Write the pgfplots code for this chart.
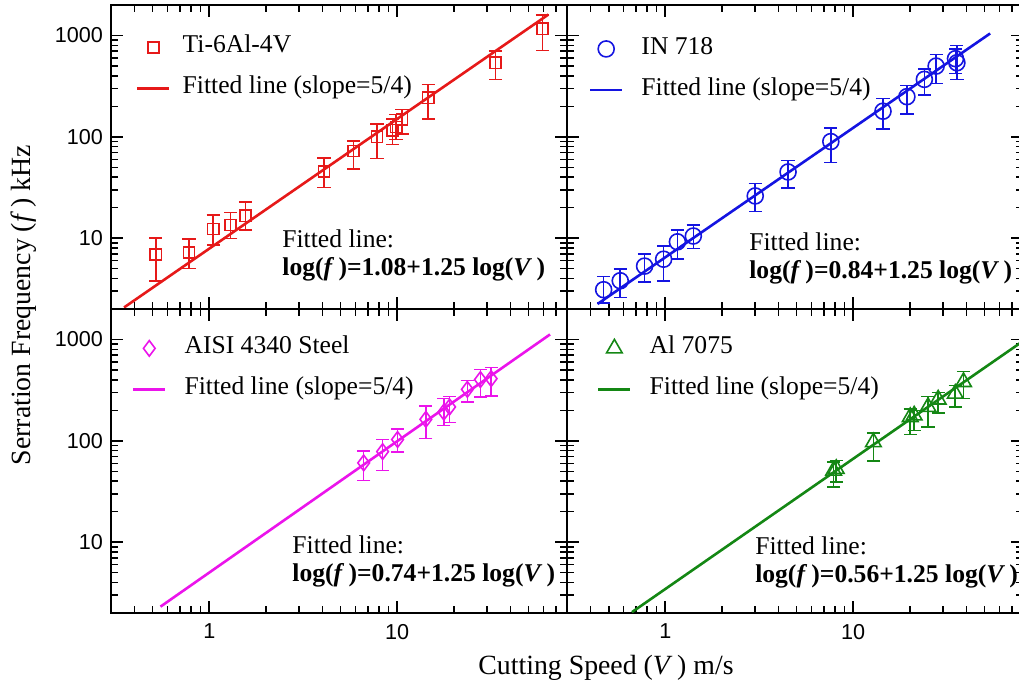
\documentclass[border=0pt]{standalone}
\usepackage{fontspec}
\setmainfont{Liberation Serif}
\newfontfamily\arial{Liberation Sans}
\usepackage{pgfplots}
\pgfplotsset{compat=1.18}

\definecolor{cred}{RGB}{230,25,25}
\definecolor{cblue}{RGB}{20,20,225}
\definecolor{cmag}{RGB}{235,20,235}
\definecolor{cgreen}{RGB}{20,135,20}

% V  f  err+  err-
\pgfplotstableread{
V f ep em
0.52 6.9 3.2 3.1
0.78 7.2 2.6 2.2
1.05 12.3 4.6 3.7
1.30 13.5 4.4 3.6
1.56 16.6 6.2 4.6
4.08 45.4 16 13.8
5.85 72.5 18.5 24.6
7.81 100 33 39
9.45 116 33 32
9.84 125 41 31
10.6 149 37 43
14.6 243 86 94
33.3 538 162 170
59.2 1164 421 453
}\tidata
\pgfplotstableread{
V f ep em
0.47 3.1 1.1 0.81
0.576 3.8 1.15 1.2
0.776 5.3 1.65 1.6
0.98 6.2 2.2 2.4
1.16 9.2 2.9 3.0
1.41 10.5 2.9 2.6
3.01 26.1 8.5 7.8
4.50 45 13.6 13.9
7.6 89.8 33 34
14.4 179 59 59
19.3 249 72 80
23.9 369 101 112
27.6 499 151 162
35.0 590 150 170
35.6 538 258 170
}\indata
\pgfplotstableread{
V f ep em
6.63 60.5 18.5 20
8.36 78.3 24.7 27.5
10.04 103 28 25.7
14.2 163 57 58
17.7 192 69 50
19.0 216 59 65
23.6 322 73 80
27.7 402 103 131
31.6 411 117 134
}\aisidata
\pgfplotstableread{
V f ep em
7.86 50.8 10.7 16
8.12 52.9 10.9 13.4
12.8 97 22 34
20.1 172 35 57
21.1 178 22 51
25.0 216 59 79
28.3 256 43 68
34.9 292 61 76
38.6 381 104 120
}\aldata

\pgfplotsset{
  every axis/.append style={
    xmode=log, ymode=log, scale only axis,
    width=228pt, height=152pt,
    xmin=0.3, xmax=80, ymin=2, ymax=2000,
    xtick={1,10}, ytick={10,100,1000},
    minor xtick={0.4,0.5,0.6,0.7,0.8,0.9,2,3,4,5,6,7,8,9,20,30,40,50,60,70,80},
    minor ytick={3,4,5,6,7,8,9,20,30,40,50,60,70,80,90,200,300,400,500,600,700,800,900},
    tick pos=both, tick align=inside,
    major tick length=6pt, minor tick length=3.5pt,
    axis line style={line width=1pt},
    every tick/.style={black, line width=0.8pt},
    tick label style={font=\arial\fontsize{10.8}{12}\selectfont},
    yticklabel style={xshift=-0.5pt},
    xticklabel style={yshift=-2pt},
    clip mode=individual,
    legend cell align=left,
    legend style={draw=none, fill=none, inner sep=0pt, outer sep=0pt,
      anchor=north west, row sep=10pt, column sep=9pt,
      font=\fontsize{12.8}{14}\selectfont,
      nodes={inner sep=0pt, text height=8pt, text depth=2.5pt}},
  },
  markleg/.style={legend image code/.code={\draw[mark repeat=2,mark phase=2,##1] plot coordinates {(0pt,0pt)(#1,0pt)(2*#1,0pt)};}},
  lineleg/.style={legend image code/.code={\draw[##1] (0pt,0pt) -- (#1,0pt);}},
  fitline/.style={line width=1.3pt},
}

\newcommand{\fitnote}[3]{%
  \node[anchor=west, inner sep=0pt, font=\fontsize{12.8}{14}\selectfont] at (rel axis cs:#1,#2) {Fitted line:};
  \node[anchor=west, inner sep=0pt, font=\fontsize{12.8}{14}\selectfont\bfseries] at (rel axis cs:#1,#2-0.1) {log(\textit{f}\,)=#3+1.25 log(\textit{V}\,)};}

% data points: open marks with capped error bars
\newcommand{\pointplot}[3]{%
\addplot[#1, #2, only marks, mark options={line width=0.8pt, fill=white, solid},
  error bars/.cd, y dir=both, y explicit,
  error bar style={line width=0.8pt},
  error mark options={rotate=90, mark size=3.3pt, line width=0.8pt}]
  table[x=V, y=f, y error plus=ep, y error minus=em] {#3};}

\begin{document}
\begin{tikzpicture}
% top left: Ti-6Al-4V
\begin{axis}[at={(55.5pt,191pt)}, anchor=south west,
  yticklabels={10,100,1000}, xticklabels={},
  legend style={at={(0.055,0.895)}, column sep=6pt}]
\addplot[cred, fitline, forget plot] coordinates {(0.352,2.07) (63.7,1610)};
\pointplot{cred}{mark=square, mark size=2.8pt, markleg=8pt}{\tidata}
\addlegendentry{Ti-6Al-4V}
\addlegendimage{cred, fitline, lineleg=16pt}
\addlegendentry{Fitted line (slope=5/4)}
\fitnote{0.375}{0.23}{1.08}
\end{axis}
% top right: IN 718
\begin{axis}[at={(283.5pt,191pt)}, anchor=south west,
  yticklabels={}, xticklabels={},
  legend style={at={(0.048,0.89)}}]
\addplot[cblue, fitline, forget plot] coordinates {(0.436,2.24) (53.5,1047)};
\pointplot{cblue}{mark=o, mark size=4pt, markleg=8pt}{\indata}
\addlegendentry{IN 718}
\addlegendimage{cblue, fitline, lineleg=16pt}
\addlegendentry{Fitted line (slope=5/4)}
\fitnote{0.399}{0.22}{0.84}
\end{axis}
% bottom left: AISI 4340
\begin{axis}[at={(55.5pt,39pt)}, anchor=south west,
  yticklabels={10,100,1000}, xticklabels={1,10},
  legend style={at={(0.046,0.905)}}]
\addplot[cmag, fitline, forget plot] coordinates {(0.55,2.31) (65.0,1122)};
\pointplot{cmag}{mark=diamond, mark size=3.9pt, markleg=8pt}{\aisidata}
\addlegendentry{AISI 4340 Steel}
\addlegendimage{cmag, fitline, lineleg=16pt}
\addlegendentry{Fitted line (slope=5/4)}
\fitnote{0.397}{0.224}{0.74}
\end{axis}
% bottom right: Al 7075
\begin{axis}[at={(283.5pt,39pt)}, anchor=south west,
  yticklabels={}, xticklabels={1,10},
  legend style={at={(0.066,0.905)}}]
\addplot[cgreen, fitline, forget plot] coordinates {(0.665,2.04) (80,965)};
\pointplot{cgreen}{mark=triangle, mark size=4.5pt, markleg=8pt}{\aldata}
\addlegendentry{Al 7075}
\addlegendimage{cgreen, fitline, lineleg=16pt}
\addlegendentry{Fitted line (slope=5/4)}
\fitnote{0.412}{0.221}{0.56}
\end{axis}
\node[font=\fontsize{13.9}{15}\selectfont] at (303pt,11.5pt) {Cutting Speed (\textit{V}\,) m/s};
\node[font=\fontsize{13.9}{15}\selectfont, rotate=90] at (12pt,193pt) {Serration Frequency (\textit{f}\,) kHz};
\pgfresetboundingbox
\useasboundingbox (0,0) rectangle (509.5pt,345.5pt);
\end{tikzpicture}
\end{document}
